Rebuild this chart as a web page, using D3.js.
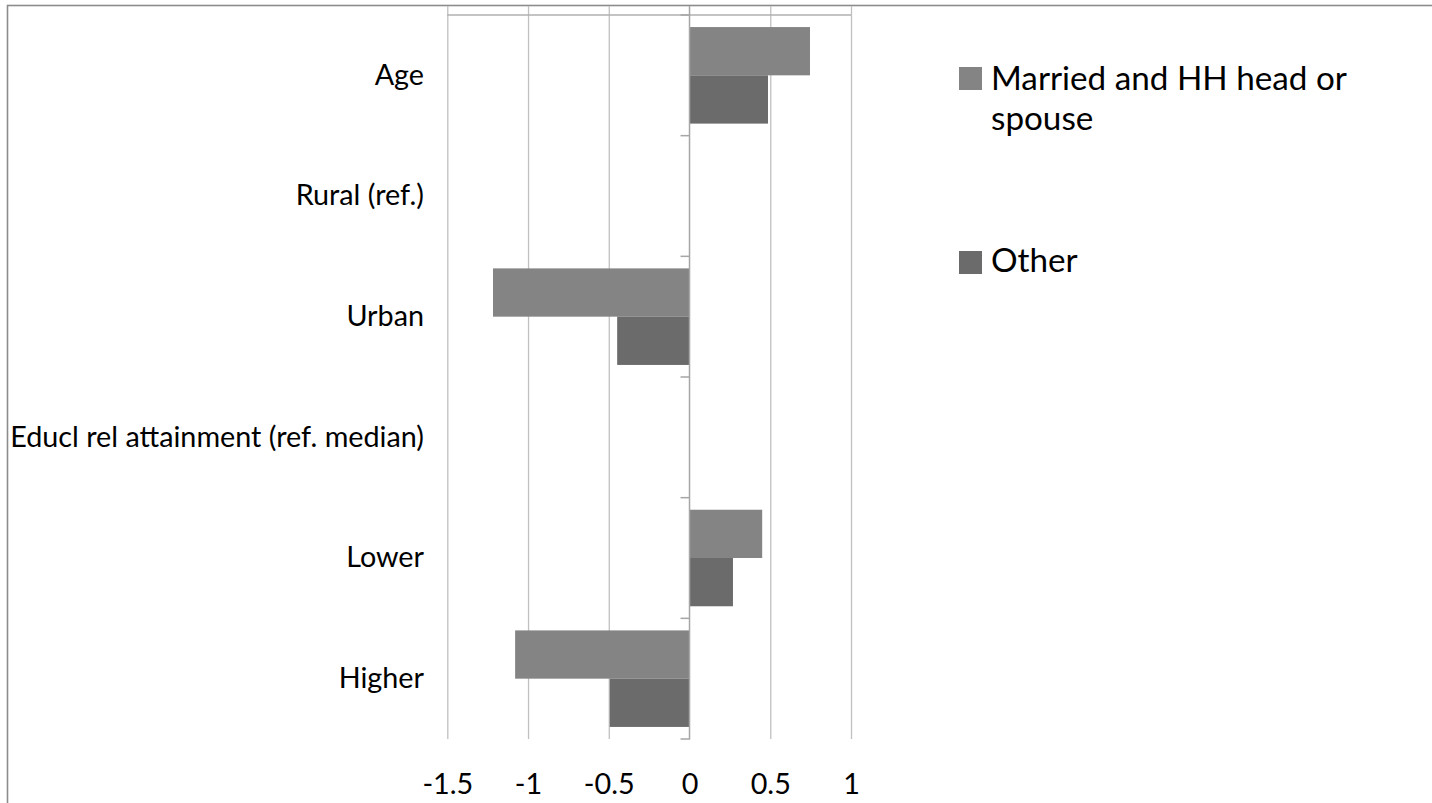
<!DOCTYPE html>
<html>
<head>
<meta charset="utf-8">
<script src="https://cdn.jsdelivr.net/npm/d3@7"></script>
<style>
  html, body { margin: 0; padding: 0; background: #fff; }
  svg { display: block; }
  text { font-family: Lato, "Open Sans", "Noto Sans", sans-serif; fill: #000; }
</style>
</head>
<body>
<svg id="chart" width="1432" height="803"></svg>
<script>
// ---- data ----
const categories = ["Age", "Rural (ref.)", "Urban", "Educl rel attainment (ref. median)", "Lower", "Higher"];
const seriesNames = ["Married and HH head or spouse", "Other"];
const marriedValues = [0.746, null, -1.217, null, 0.45, -1.08];
const otherValues = [0.486, null, -0.448, null, 0.269, -0.494];
const xTickValues = [-1.5, -1, -0.5, 0, 0.5, 1];
const xTickLabels = ["-1.5", "-1", "-0.5", "0", "0.5", "1"];

const colors = ["#848484", "#6b6b6b"];
const seriesValues = [marriedValues, otherValues];

const svg = d3.select("#chart");

// outer frame (extends past the viewport on right and bottom)
svg.append("rect")
  .attr("x", 7.5).attr("y", 5.5)
  .attr("width", 1500).attr("height", 900)
  .attr("fill", "none").attr("stroke", "#8c8c8c").attr("stroke-width", 1.6);

const x = d3.scaleLinear().domain([-1.5, 1]).range([447.3, 851]);
const y = d3.scaleBand().domain(categories).range([15, 739]).padding(0);
const ySub = d3.scaleBand().domain(seriesNames).range([0, y.bandwidth()]).paddingInner(0).paddingOuter(0.25);

// vertical gridlines
const grid = svg.append("g").attr("transform", "translate(0,739)")
  .call(d3.axisBottom(x).tickValues(xTickValues.filter(v => v !== 0)).tickSize(-733).tickFormat(""));
grid.select(".domain").remove();
grid.selectAll("line").attr("stroke", "#c0c0c0").attr("stroke-width", 1.3);

// top plot border line
svg.append("line")
  .attr("x1", x(-1.5)).attr("x2", x(1)).attr("y1", 15).attr("y2", 15)
  .attr("stroke", "#b0b0b0").attr("stroke-width", 1.3);

// bars
seriesNames.forEach((name, si) => {
  const vals = seriesValues[si];
  svg.append("g").selectAll("rect")
    .data(categories.map((c, i) => ({ c, v: vals[i] })).filter(d => d.v !== null))
    .join("rect")
    .attr("x", d => x(Math.min(0, d.v)))
    .attr("width", d => Math.abs(x(d.v) - x(0)))
    .attr("y", d => y(d.c) + ySub(name))
    .attr("height", ySub.bandwidth())
    .attr("fill", colors[si]);
});

// zero axis with category boundary ticks
const zeroX = x(0);
svg.append("line")
  .attr("x1", zeroX).attr("x2", zeroX).attr("y1", 6).attr("y2", 739.5)
  .attr("stroke", "#a6a6a6").attr("stroke-width", 1.5);
const boundaries = categories.map(c => y(c)).concat([y(categories[categories.length - 1]) + y.bandwidth()]);
svg.append("g").selectAll("line").data(boundaries).join("line")
  .attr("x1", zeroX - 9).attr("x2", zeroX).attr("y1", d => d).attr("y2", d => d)
  .attr("stroke", "#a6a6a6").attr("stroke-width", 1.5);

// x tick labels
const xAxis = svg.append("g").attr("transform", "translate(0,794)")
  .call(d3.axisBottom(x).tickValues(xTickValues).tickSize(0).tickPadding(0)
    .tickFormat((d, i) => xTickLabels[i]));
xAxis.select(".domain").remove();
xAxis.selectAll("text").attr("dy", 0).attr("font-size", 28)
  .style("font-family", "Lato, 'Open Sans', sans-serif").attr("fill", "#000");

// category labels
const yAxis = svg.append("g").attr("transform", "translate(424,0)")
  .call(d3.axisLeft(y).tickSize(0).tickPadding(0));
yAxis.select(".domain").remove();
yAxis.selectAll("text").attr("font-size", 28).attr("dy", "0.32em")
  .style("font-family", "Lato, 'Open Sans', sans-serif").attr("fill", "#000");

// fit category label font to reference width (longest label ≈ 414 px)
(function fit() {
  let longest = null, w = 0;
  yAxis.selectAll("text").each(function () { const l = this.getComputedTextLength(); if (l > w) { w = l; longest = this; } });
  if (w > 0) {
    const fs = 28 * 414 / w;
    yAxis.selectAll("text").attr("font-size", fs);
    xAxis.selectAll("text").attr("font-size", fs);
  }
})();

// legend
const legend = svg.append("g");
const legendLines = [["Married and HH head or", "spouse"], ["Other"]];
const legendTops = [67, 251];
const legendBaselines = [[90, 130], [272]];
legendLines.forEach((lines, i) => {
  legend.append("rect").attr("x", 959).attr("y", legendTops[i]).attr("width", 23).attr("height", 23).attr("fill", colors[i]);
  lines.forEach((t, j) => {
    legend.append("text").attr("x", 991).attr("y", legendBaselines[i][j])
      .attr("font-size", 34).text(t);
  });
});
// fit legend first line to ≈ 356 px
(function fitLegend() {
  const first = legend.selectAll("text").nodes()[0];
  const w = first.getComputedTextLength();
  if (w > 0) legend.selectAll("text").attr("font-size", 34 * 356 / w);
})();
</script>
</body>
</html>
